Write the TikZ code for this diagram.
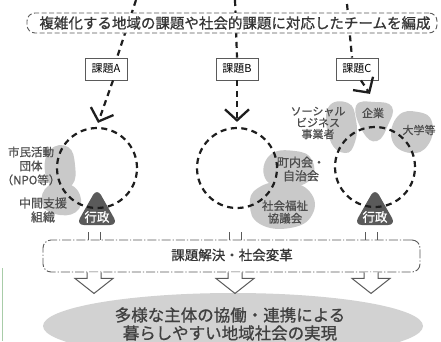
\documentclass[tikz,border=0pt]{standalone}
\usepackage{fontspec}
\setmainfont{Noto Sans CJK JP}
\newfontfamily\medfont[FakeBold=0.8]{Noto Sans CJK JP}
\usetikzlibrary{arrows.meta,shapes.geometric}
\definecolor{blob}{HTML}{C9C9C9}
\definecolor{ink}{HTML}{1E1E1E}
\definecolor{gtxt}{HTML}{4E4E4E}
\definecolor{gov}{HTML}{5A5A5A}
\definecolor{boxline}{HTML}{5A5A5A}
\definecolor{ellfill}{HTML}{D2D2D2}
\definecolor{edgegreen}{HTML}{A8CCA8}
\begin{document}
\begin{tikzpicture}[x=1pt,y=-1pt,
  dline/.style={draw=ink, line width=2.2pt, dash pattern=on 6pt off 4.5pt},
  vtip/.style={-{Straight Barb[length=11pt,width=24pt,line width=2.3pt]}},
  kbox/.style={draw=boxline, line width=0.8pt, fill=white, minimum width=42pt, minimum height=22pt, inner sep=0pt, font=\fontsize{11}{12}\selectfont},
  blobfill/.style={fill=blob},
  btext/.style={text=gtxt, align=center, inner sep=0pt},
  govtext/.style={text=white, inner sep=0pt, font=\medfont\fontsize{12.5}{13}\selectfont},
  ring/.style={circle, minimum size=80pt, inner sep=0pt, dline},
  hline/.style={draw=boxline, line width=1pt},
  pics/harr/.style={code={\draw[hline, fill=white] (-7,0) -- (-7,6) -- (-19,6) -- (0,21) -- (19,6) -- (7,6) -- (7,0);}},
  pics/govtri/.style={code={\fill[gov, rounded corners=8pt] (-21,16) -- (0,-21) -- (21,16) -- cycle;}}
]
\useasboundingbox (0,0) rectangle (441,341);
\fill[white] (0,0) rectangle (441,341);
\draw[edgegreen, line width=1pt] (2.5,268) -- (2.5,341);

% bottom ellipse
\node[ellipse, fill=ellfill, minimum width=380pt, minimum height=66pt, inner sep=0pt] (goal) at (233,326) {};
\node[align=center, text=ink!85, font=\medfont\fontsize{16.5}{18}\selectfont] (goaltxt) at (230,324) {多様な主体の協働・連携による\\暮らしやすい地域社会の実現};

% blobs
\fill[blobfill] plot[smooth cycle, tension=0.8] coordinates {(50,150) (68,147) (75,165) (72,185) (55,188) (45,172)};
\fill[blobfill] plot[smooth cycle, tension=0.8] coordinates {(48,186) (66,183) (80,195) (76,212) (55,214) (42,203)};
\fill[blobfill] plot[smooth cycle, tension=0.8] coordinates {(270,155) (295,151) (312,160) (310,180) (285,187) (265,178)};
\fill[blobfill] plot[smooth cycle, tension=0.8] coordinates {(258,188) (285,182) (310,192) (312,215) (290,228) (260,224) (250,205)};
\fill[blobfill] plot[smooth cycle, tension=0.8] coordinates {(356,106) (375,102) (392,107) (388,125) (377,141) (363,132)};
\fill[blobfill] plot[smooth cycle, tension=0.8] coordinates {(398,116) (418,112) (432,122) (428,145) (410,153) (392,140)};
\fill[blobfill] plot[smooth cycle, tension=0.8] coordinates {(328,108) (348,103) (356,120) (355,142) (345,153) (330,140)};

% government triangles
\pic at (97,209) {govtri};
\pic at (375,209) {govtri};
\node[govtext] (gA) at (97,217) {行政};
\node[govtext] (gC) at (375,217) {行政};

% blob texts
\node[btext, font=\medfont\fontsize{11.5}{14}\selectfont] (tA1) at (31,166) {市民活動\\団体\\（NPO等）};
\node[btext, font=\medfont\fontsize{12}{14}\selectfont] (tA2) at (43,210) {中間支援\\組織};
\node[btext, font=\medfont\fontsize{12}{13.5}\selectfont] (tB1) at (301,169) {町内会・\\自治会};
\node[btext, font=\medfont\fontsize{11.5}{12.5}\selectfont] (tB2) at (285,212) {社会福祉\\協議会};
\node[btext, font=\medfont\fontsize{11}{12}\selectfont] (tC1) at (373,113) {企業};
\node[btext, font=\medfont\fontsize{11}{12}\selectfont] (tC2) at (419,130) {大学等};
\node[btext, font=\medfont\fontsize{11}{11.5}\selectfont] (tC3) at (318,123) {ソーシャル\\ビジネス\\事業者};

% rings
\node[ring] (cA) at (97,168) {};
\node[ring] (cB) at (237,168) {};
\node[ring] (cC) at (375,167) {};

% task boxes
\node[kbox] (ka) at (106,69) {課題A};
\node[kbox] (kb) at (237,69) {課題B};
\node[kbox] (kc) at (357,69) {課題C};

% lines from top
\coordinate (ta) at (136,0);
\coordinate (tb) at (235,0);
\coordinate (tc) at (347,4);
\draw[dline] (ta) -- ([xshift=11pt]ka.north);
\draw[dline] (tb) -- (kb.north);
\draw[dline] (tc) -- ([xshift=-5pt]kc.north);

% top box
\node[draw=boxline, line width=0.9pt, dash pattern=on 5pt off 2.5pt, rounded corners=8pt, fill=white,
      minimum width=410pt, minimum height=20pt, inner sep=0pt] (top) at (232,23) {};
\node[text=ink!90, font=\medfont\fontsize{14.5}{16}\selectfont, inner sep=0pt] (toptxt) at (235,23) {複雑化する地域の課題や社会的課題に対応したチームを編成};

% arrows into rings
\draw[dline, vtip] ([xshift=7pt]ka.south) -- ([xshift=1pt,yshift=4pt]cA.north);
\draw[dline, vtip] (kb.south) -- ([yshift=5pt]cB.north);
\draw[dline, vtip] ([xshift=4pt]kc.south) -- ([xshift=-5pt,yshift=32pt]cC.north);

% middle box
\node[draw=boxline, line width=0.9pt, dash pattern=on 9pt off 2pt on 1.2pt off 2pt, rounded corners=8pt, fill=white,
      minimum width=377pt, minimum height=32pt, inner sep=0pt] (mid) at (231.5,256) {};
\node[text=ink!90, font=\medfont\fontsize{13.5}{15}\selectfont, inner sep=0pt] (midtxt) at (232,255) {課題解決・社会変革};

% shafts into middle box
\draw[hline] (88,232) -- (88,0 |- mid.north);
\draw[hline] (100,232) -- (100,0 |- mid.north);
\draw[hline] (229,232) -- (229,0 |- mid.north);
\draw[hline] (241,232) -- (241,0 |- mid.north);
\draw[hline] (365,232) -- (365,0 |- mid.north);
\draw[hline] (377,232) -- (377,0 |- mid.north);

% hollow arrows below
\pic at (94,0 |- mid.south) {harr};
\pic at (235,0 |- mid.south) {harr};
\pic at (371,0 |- mid.south) {harr};
\end{tikzpicture}
\end{document}
